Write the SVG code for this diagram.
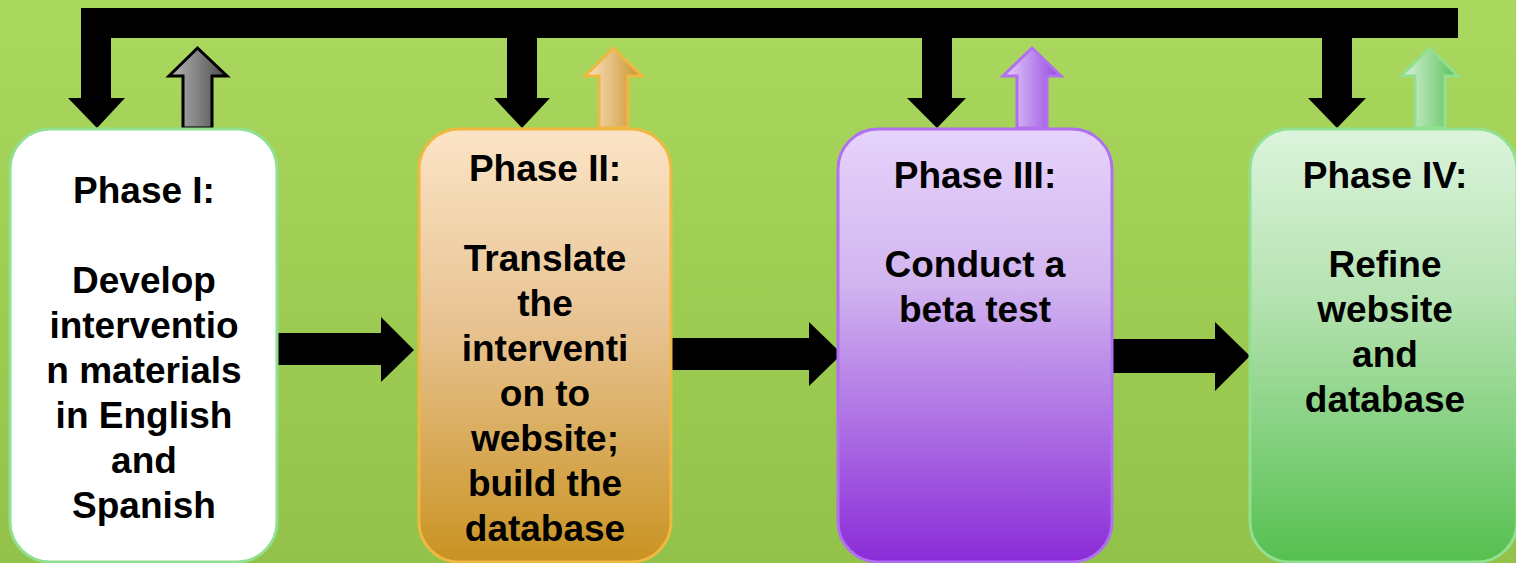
<svg xmlns="http://www.w3.org/2000/svg" width="1516" height="563" viewBox="0 0 1516 563">
<defs>
<linearGradient id="bg" x1="0" y1="0" x2="0" y2="1">
<stop offset="0" stop-color="#abd85e"/>
<stop offset="1" stop-color="#93c24a"/>
</linearGradient>
<linearGradient id="g2" x1="0" y1="0" x2="0" y2="1">
<stop offset="0" stop-color="#fbe4c6"/>
<stop offset="0.45" stop-color="#e8c392"/>
<stop offset="1" stop-color="#c99322"/>
</linearGradient>
<linearGradient id="g3" x1="0" y1="0" x2="0" y2="1">
<stop offset="0" stop-color="#e6d3fa"/>
<stop offset="0.35" stop-color="#d2b6f0"/>
<stop offset="1" stop-color="#8a2cd8"/>
</linearGradient>
<linearGradient id="g4" x1="0" y1="0" x2="0" y2="1">
<stop offset="0" stop-color="#dcf4dc"/>
<stop offset="0.4" stop-color="#b4e2b0"/>
<stop offset="1" stop-color="#56c050"/>
</linearGradient>
<linearGradient id="u1" x1="0" y1="0" x2="1" y2="0">
<stop offset="0" stop-color="#b8b8b8"/>
<stop offset="1" stop-color="#4a4a4a"/>
</linearGradient>
<linearGradient id="u2" x1="0" y1="0" x2="1" y2="0">
<stop offset="0" stop-color="#fbe4c6"/>
<stop offset="1" stop-color="#c8922a"/>
</linearGradient>
<linearGradient id="u3" x1="0" y1="0" x2="1" y2="0">
<stop offset="0" stop-color="#e6d3fa"/>
<stop offset="1" stop-color="#9444e0"/>
</linearGradient>
<linearGradient id="u4" x1="0" y1="0" x2="1" y2="0">
<stop offset="0" stop-color="#dcf4dc"/>
<stop offset="1" stop-color="#58c058"/>
</linearGradient>
</defs>
<style>
.box{stroke-width:3}
.t{font-family:"Liberation Sans",Arial,sans-serif;font-weight:bold;font-size:37px;fill:#000;text-anchor:middle}
.blk{fill:#000}
.up{stroke-width:3}
</style>
<rect x="0" y="0" width="1516" height="563" fill="url(#bg)"/>

<g id="connectors">
<path class="blk" d="M81,8 H1458 V38 H1352 V98 H1366 L1337,128 L1308,98 H1322 V38 H952 V98 H966 L937,128 L907,98 H922 V38 H537 V98 H550 L522,128 L494,98 H507 V38 H111 V98 H125 L97,128 L68,98 H81 Z"/>
<path class="up" fill="url(#u1)" stroke="#000" d="M183,128 V76 H169 L197.5,48 L227,76 H212 V128 Z"/>
<path class="up" fill="url(#u2)" stroke="#f0b840" d="M599,128 V76 H585 L613.5,48 L642,76 H628 V128 Z"/>
<path class="up" fill="url(#u3)" stroke="#b070f0" d="M1017,128 V76 H1003 L1032,48 L1061,76 H1047 V128 Z"/>
<path class="up" fill="url(#u4)" stroke="#90e090" d="M1415,128 V76 H1401 L1429.5,48 L1458,76 H1445 V128 Z"/>
<path class="blk" d="M276,333 H381 V317 L414,350 L381,382 V365 H276 Z"/>
<path class="blk" d="M671,338 H809 V322 L842,354 L809,386 V370 H671 Z"/>
<path class="blk" d="M1110,339 H1215 V322 L1250,356 L1215,391 V373 H1110 Z"/>
</g>

<g id="phase1">
<rect class="box" x="10" y="129" width="267" height="433" rx="40" fill="#ffffff" stroke="#90e090"/>
<text class="t" x="144"><tspan x="144" y="203">Phase I:</tspan><tspan x="144" y="293">Develop</tspan><tspan x="144" y="338">interventio</tspan><tspan x="144" y="383">n materials</tspan><tspan x="144" y="428">in English</tspan><tspan x="144" y="473">and</tspan><tspan x="144" y="518">Spanish</tspan></text>
</g>

<g id="phase2">
<rect class="box" x="419" y="129" width="252" height="433" rx="40" fill="url(#g2)" stroke="#f0b840"/>
<text class="t" x="545"><tspan x="545" y="181">Phase II:</tspan><tspan x="545" y="271">Translate</tspan><tspan x="545" y="316">the</tspan><tspan x="545" y="361">interventi</tspan><tspan x="545" y="406">on to</tspan><tspan x="545" y="451">website;</tspan><tspan x="545" y="496">build the</tspan><tspan x="545" y="541">database</tspan></text>
</g>

<g id="phase3">
<rect class="box" x="838" y="129" width="274" height="433" rx="40" fill="url(#g3)" stroke="#b070f0"/>
<text class="t" x="975"><tspan x="975" y="188">Phase III:</tspan><tspan x="975" y="277">Conduct a</tspan><tspan x="975" y="322">beta test</tspan></text>
</g>

<g id="phase4">
<rect class="box" x="1250" y="129" width="267" height="433" rx="40" fill="url(#g4)" stroke="#90e090"/>
<text class="t" x="1385"><tspan x="1385" y="188">Phase IV:</tspan><tspan x="1385" y="277">Refine</tspan><tspan x="1385" y="322">website</tspan><tspan x="1385" y="367">and</tspan><tspan x="1385" y="412">database</tspan></text>
</g>
</svg>
